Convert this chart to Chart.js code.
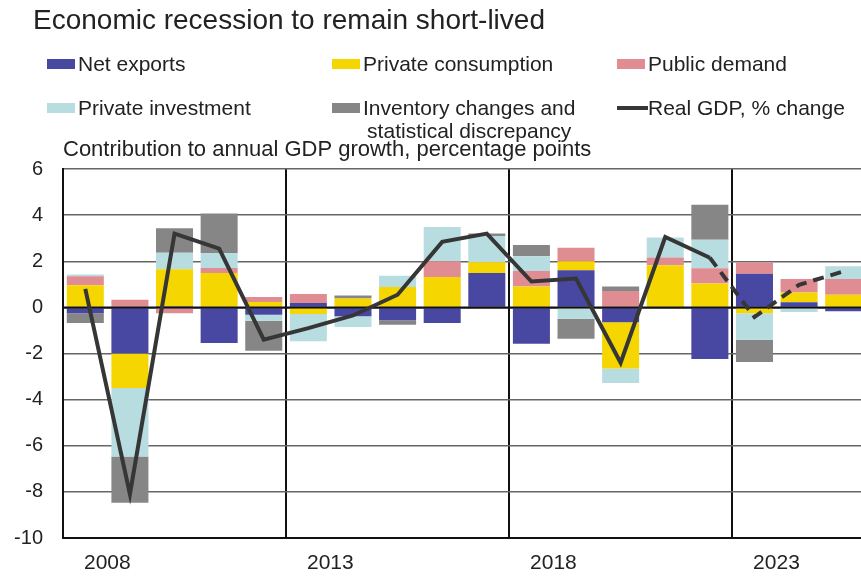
<!DOCTYPE html>
<html>
<head>
<meta charset="utf-8">
<script src="https://cdn.jsdelivr.net/npm/chart.js@4.4.0/dist/chart.umd.min.js"></script>
<style>
  html, body { margin: 0; padding: 0; background: #fff; overflow: hidden; }
  #wrap { position: absolute; left: 0; top: 0; width: 870px; height: 576px; }
</style>
</head>
<body>
<div id="wrap"><canvas id="grafico" width="870" height="576"></canvas></div>
<script>
// dados (pontos percentuais)
var years = ['2008', '2009', '2010', '2011', '2012', '2013', '2014', '2015', '2016',
             '2017', '2018', '2019', '2020', '2021', '2022', '2023', '2024', '2025'];
var labeledYears = ['2008', '2013', '2018', '2023'];

var netExports = [-0.25, -2.0, 0.05, -1.55, -0.32, 0.19, -0.39, -0.56, -0.68,
                  1.49, -1.58, 1.61, -0.64, 0, -2.24, 1.46, 0.22, -0.17];
var privateConsumption = [0.96, -1.5, 1.6, 1.49, 0.23, -0.29, 0.38, 0.88, 1.32,
                          0.47, 0.91, 0.39, -2.01, 1.83, 1.03, -0.25, 0.43, 0.55];
var publicDemand = [0.39, 0.33, -0.25, 0.22, 0.22, 0.39, 0, 0, 0.68,
                    0, 0.67, 0.59, 0.71, 0.33, 0.67, 0.49, 0.58, 0.68];
var privateInvestment = [0.08, -2.97, 0.72, 0.65, -0.26, -1.18, -0.46, 0.49, 1.49,
                         1.13, 0.64, -0.49, -0.63, 0.87, 1.23, -1.15, -0.2, 0.55];
var inventory = [-0.43, -2.0, 1.06, 1.71, -1.3, 0, 0.14, -0.19, 0,
                 0.11, 0.48, -0.87, 0.2, 0, 1.52, -0.97, 0, 0];
var realGdp = [0.8, -8.1, 3.2, 2.55, -1.4, -0.9, -0.35, 0.55, 2.84,
               3.2, 1.12, 1.25, -2.4, 3.05, 2.15, -0.42, 0.98, 1.56];
var firstForecast = 14; // linha tracejada a partir de 2022

var yTicks = [-10, -8, -6, -4, -2, 0, 2, 4, 6];

var titleText = 'Economic recession to remain short-lived';
var subtitleText = 'Contribution to annual GDP growth, percentage points';

var fontFamily = '"Liberation Sans", Arial, sans-serif';
var textColor = '#222';

// posicoes da legenda (3 colunas x 2 linhas)
var legendX = [47, 332, 617];
var legendY = [71, 115];

function montaDataset(label, dados, cor) {
  return {
    type: 'bar',
    label: label,
    data: dados,
    backgroundColor: cor,
    borderWidth: 0,
    stack: 'contrib',
    order: 1,
    barPercentage: 0.83,
    categoryPercentage: 1
  };
}

var legendPlugin = {
  id: 'legenda',
  afterDraw: function(chart) {
    var ctx = chart.ctx;
    ctx.save();
    ctx.fillStyle = textColor;
    ctx.textBaseline = 'alphabetic';
    ctx.textAlign = 'left';

    ctx.font = '28px ' + fontFamily;
    ctx.fillText(titleText, 33, 29);

    ctx.font = '22px ' + fontFamily;
    ctx.fillText(subtitleText, 63, 156);

    ctx.font = '21px ' + fontFamily;
    chart.data.datasets.forEach(function(ds, i) {
      var x = legendX[i % 3];
      var y = legendY[Math.floor(i / 3)];
      if (ds.type === 'line') {
        ctx.fillStyle = ds.borderColor;
        ctx.fillRect(x, y - 9, 31, 4);
      } else {
        ctx.fillStyle = ds.backgroundColor;
        ctx.fillRect(x, y - 12, 28, 10);
      }
      ctx.fillStyle = textColor;
      var linhas = ds.label.split('\n');
      var w = ctx.measureText(linhas[0]).width;
      ctx.fillText(linhas[0], x + 31, y);
      for (var k = 1; k < linhas.length; k++) {
        ctx.textAlign = 'center';
        ctx.fillText(linhas[k], x + 31 + w / 2, y + 23 * k);
        ctx.textAlign = 'left';
      }
    });
    ctx.restore();
  },
  // linha do zero por cima das barras, antes da linha do PIB
  beforeDatasetDraw: function(chart, args) {
    if (chart.data.datasets[args.index].type !== 'line') return;
    var ctx = chart.ctx;
    var area = chart.chartArea;
    var y0 = chart.scales.y.getPixelForValue(0);
    ctx.save();
    ctx.strokeStyle = '#111';
    ctx.lineWidth = 2;
    ctx.beginPath();
    ctx.moveTo(area.left, y0);
    ctx.lineTo(area.right, y0);
    ctx.stroke();
    ctx.restore();
  }
};

function desenhaChart() {
  var ctx = document.getElementById('grafico').getContext('2d');
  new Chart(ctx, {
    data: {
      labels: years,
      datasets: [
        montaDataset('Net exports', netExports, '#4848a2'),
        montaDataset('Private consumption', privateConsumption, '#f6d600'),
        montaDataset('Public demand', publicDemand, '#df8c92'),
        montaDataset('Private investment', privateInvestment, '#b8dde1'),
        montaDataset('Inventory changes and\nstatistical discrepancy', inventory, '#868686'),
        {
          type: 'line',
          label: 'Real GDP, % change',
          data: realGdp,
          borderColor: '#363636',
          borderWidth: 4,
          pointRadius: 0,
          tension: 0,
          stack: 'gdp',
          order: 0,
          segment: {
            borderDash: function(c) { return c.p0DataIndex >= firstForecast ? [11, 7] : undefined; }
          }
        }
      ]
    },
    options: {
      responsive: false,
      animation: false,
      layout: { padding: { top: 169, left: 0, right: 4, bottom: 0 } },
      plugins: {
        legend: { display: false },
        title: { display: false },
        tooltip: { enabled: false }
      },
      scales: {
        x: {
          stacked: true,
          offset: true,
          afterFit: function(s) { s.height = 38; s.paddingLeft = 0; s.paddingRight = 0; },
          border: { display: true, color: '#111', width: 2 },
          grid: {
            offset: true,
            drawTicks: false,
            lineWidth: 2,
            color: function(c) { return (c.index % 5 === 0 && c.index > 0 && c.index < years.length) ? '#111' : 'rgba(0,0,0,0)'; }
          },
          ticks: {
            autoSkip: false,
            maxRotation: 0,
            padding: 13,
            labelOffset: 22,
            color: textColor,
            font: { family: fontFamily, size: 21 },
            callback: function(v, i) { return labeledYears.indexOf(years[i]) >= 0 ? years[i] : ''; }
          }
        },
        y: {
          stacked: true,
          min: -10,
          max: 6,
          afterFit: function(s) { s.width = 63; s.paddingTop = 0; s.paddingBottom = 0; },
          afterBuildTicks: function(s) { s.ticks = yTicks.map(function(v) { return { value: v }; }); },
          border: { display: true, color: '#111', width: 2 },
          grid: {
            drawTicks: false,
            lineWidth: 1.5,
            color: function(c) { return c.tick && c.tick.value === 0 ? '#111' : '#666'; }
          },
          ticks: {
            padding: 20,
            color: textColor,
            font: { family: fontFamily, size: 20 }
          }
        }
      }
    },
    plugins: [legendPlugin]
  });
}

desenhaChart();
</script>
</body>
</html>
